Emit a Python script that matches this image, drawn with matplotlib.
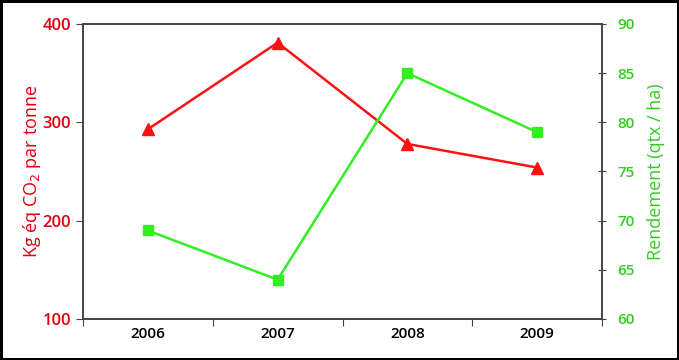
import matplotlib
matplotlib.use("Agg")
import matplotlib.pyplot as plt
import numpy as np

years = ["2006", "2007", "2008", "2009"]
co2 = [293, 381, 278, 254]
rendement = [69, 64, 85, 79]

plt.rcParams['font.family'] = ['Open Sans', 'DejaVu Sans']

red_line = '#ff1111'
red_text = '#dd0011'
green_line = '#33ee22'
green_text = '#33cc22'

fig = plt.figure(figsize=(6.79, 3.6), dpi=100)
fig.patch.set_edgecolor('black')
fig.patch.set_linewidth(2.5)
ax = fig.add_axes([83/679, 1-319/360, (602-83)/679, (319-24)/360])
ax2 = ax.twinx()

x = np.arange(len(years))
ax.plot(x, co2, color=red_line, lw=1.8, marker='^', ms=8, zorder=3)
ax2.plot(x, rendement, color=green_line, lw=1.8, marker='s', ms=7, zorder=3)

ax.set_xlim(-0.5, len(years)-0.5)
ax.set_xticks(np.arange(-0.5, len(years), 1.0))
ax.set_xticklabels([])
ax.set_xticks(x, minor=True)
ax.set_xticklabels(years, minor=True, fontsize=11, fontweight='semibold')
ax.tick_params(axis='x', which='minor', length=0, pad=6)
ax.tick_params(axis='x', which='major', length=5, direction='out', color='#444444')

ax.set_ylim(100, 400)
ax.set_yticks([100, 200, 300, 400])
ax.tick_params(axis='y', labelsize=12, length=5, direction='out', color='#444444')
for t in ax.get_yticklabels():
    t.set_color(red_text)
    t.set_fontweight('semibold')
ax.set_ylabel("Kg éq CO$_2$ par tonne", color=red_text, fontsize=13, labelpad=0)

ax2.set_ylim(60, 90)
ax2.set_yticks([60, 65, 70, 75, 80, 85, 90])
ax2.tick_params(axis='y', labelsize=11, length=6, direction='inout', color='#444444', pad=8)
for t in ax2.get_yticklabels():
    t.set_color(green_text)
    t.set_fontweight('semibold')
ax2.set_ylabel("Rendement (qtx / ha)", color=green_text, fontsize=13, labelpad=9)

for a in (ax, ax2):
    for s in a.spines.values():
        s.set_color('#444444')
        s.set_linewidth(1.2)

fig.savefig("out.png", dpi=100, edgecolor=fig.get_edgecolor())
